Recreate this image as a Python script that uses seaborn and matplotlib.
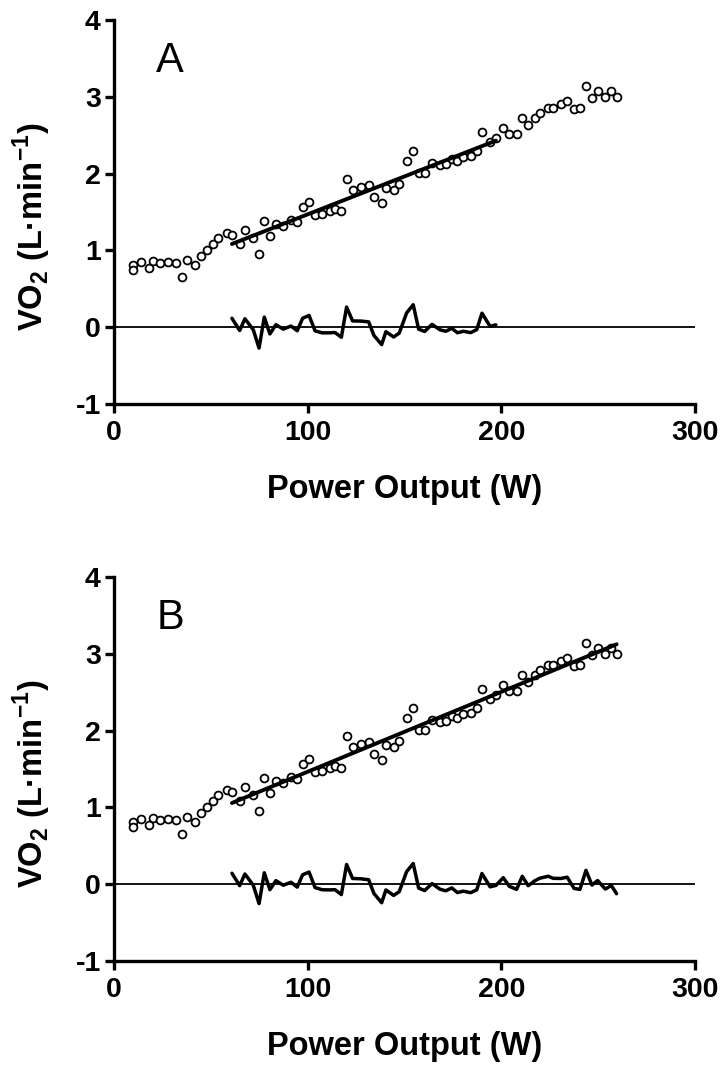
import numpy as np
import pandas as pd
import matplotlib
matplotlib.use("Agg")
import matplotlib.pyplot as plt
import seaborn as sns

# ---- data ----
power_w = [10.0, 10.0, 14.1, 18.1, 20.0, 23.9, 28.0, 32.0, 34.9, 37.9,
           41.8, 44.7, 47.8, 50.9, 53.9, 58.3, 60.9, 64.9, 67.6, 71.9,
           74.9, 77.6, 80.5, 83.6, 87.4, 91.4, 94.6, 97.4, 100.7, 103.8,
           107.5, 111.5, 114.1, 117.4, 120.1, 123.2, 127.4, 131.5, 134.2, 138.2,
           140.4, 144.4, 147.3, 151.1, 154.5, 157.3, 160.4, 164.2, 168.3, 171.3,
           174.4, 177.3, 180.4, 184.2, 187.3, 190.0, 194.2, 197.2, 201.0, 204.1,
           207.9, 210.8, 213.9, 217.3, 219.9, 224.2, 226.8, 230.8, 234.0, 237.6,
           240.6, 243.7, 246.8, 249.7, 253.7, 256.8, 259.5]
vo2 = [0.81, 0.75, 0.85, 0.77, 0.865, 0.83, 0.855, 0.84, 0.655, 0.88,
       0.81, 0.925, 1.01, 1.08, 1.16, 1.225, 1.20, 1.08, 1.26, 1.16,
       0.95, 1.38, 1.19, 1.34, 1.32, 1.40, 1.37, 1.56, 1.63, 1.46,
       1.47, 1.51, 1.54, 1.51, 1.93, 1.78, 1.82, 1.85, 1.70, 1.62,
       1.81, 1.78, 1.86, 2.16, 2.30, 2.01, 2.01, 2.14, 2.11, 2.12,
       2.19, 2.16, 2.21, 2.23, 2.30, 2.54, 2.41, 2.46, 2.60, 2.52,
       2.52, 2.72, 2.63, 2.73, 2.79, 2.86, 2.86, 2.90, 2.95, 2.84,
       2.86, 3.14, 2.98, 3.07, 3.00, 3.08, 3.00]

panel_labels = ["A", "B"]
fit_start = [60, 60]          # W, start of linear-fit window
fit_end = [198, 262]          # W, end of linear-fit window
x_ticks = [0, 100, 200, 300]
y_ticks = [-1, 0, 1, 2, 3, 4]
x_label = "Power Output (W)"
y_label = r"VO$_{\mathbf{2}}$ (L·min$^{\mathbf{-1}}$)"

df = pd.DataFrame({"power": power_w, "vo2": vo2})

sns.set_theme(style="ticks")
plt.rcParams["font.family"] = ["Liberation Sans", "DejaVu Sans"]
plt.rcParams["mathtext.fontset"] = "custom"
plt.rcParams["mathtext.bf"] = "Liberation Sans:bold"
plt.rcParams["mathtext.rm"] = "Liberation Sans:bold"
plt.rcParams["axes.unicode_minus"] = False

fig = plt.figure(figsize=(7.21, 10.66), dpi=100)
W, H = 721, 1066
ax_left, ax_right = 114, 695
panel_tops = [20, 577]
panel_bottoms = [404, 961]

for i in range(2):
    ax = fig.add_axes([ax_left / W, 1 - panel_bottoms[i] / H,
                       (ax_right - ax_left) / W,
                       (panel_bottoms[i] - panel_tops[i]) / H])
    sub = df[(df.power >= fit_start[i]) & (df.power <= fit_end[i])].copy()
    slope, intercept = np.polyfit(sub.power, sub.vo2, 1)
    sub["resid"] = sub.vo2 - (slope * sub.power + intercept)

    ax.axhline(0, color="black", lw=1.3, zorder=1)
    sns.scatterplot(data=df, x="power", y="vo2", ax=ax, marker="o",
                    s=32, facecolor="white", edgecolor="black",
                    linewidth=1.3, zorder=3)
    sns.regplot(data=sub, x="power", y="vo2", ax=ax, scatter=False,
                ci=None, truncate=True,
                line_kws=dict(color="black", lw=2.8, zorder=4))
    sns.lineplot(data=sub, x="power", y="resid", ax=ax, estimator=None,
                 sort=True, color="black", lw=2.5, zorder=4)

    ax.set_xlim(0, 300)
    ax.set_ylim(-1, 4)
    ax.set_xticks(x_ticks)
    ax.set_yticks(y_ticks)
    sns.despine(ax=ax)
    for s in ["left", "bottom"]:
        ax.spines[s].set_linewidth(2.4)
        ax.spines[s].set_color("black")
    ax.tick_params(axis="both", which="major", direction="out", length=6.5,
                   width=2.4, color="black", labelsize=20.5, pad=3)
    ax.tick_params(axis="x", pad=5)
    for lab in ax.get_xticklabels() + ax.get_yticklabels():
        lab.set_fontweight("bold")
        lab.set_color("black")
    ax.set_xlabel(x_label, fontsize=23.5, fontweight="bold", color="black",
                  labelpad=20)
    ax.set_ylabel(y_label, fontsize=23.5, fontweight="bold", color="black")
    ax.yaxis.set_label_coords(-0.105, 0.462)
    ax.text(29, 3.32, panel_labels[i], fontsize=30, ha="center",
            va="baseline", color="black")
    ax.set_facecolor("white")

fig.savefig("out.png", dpi=100)
